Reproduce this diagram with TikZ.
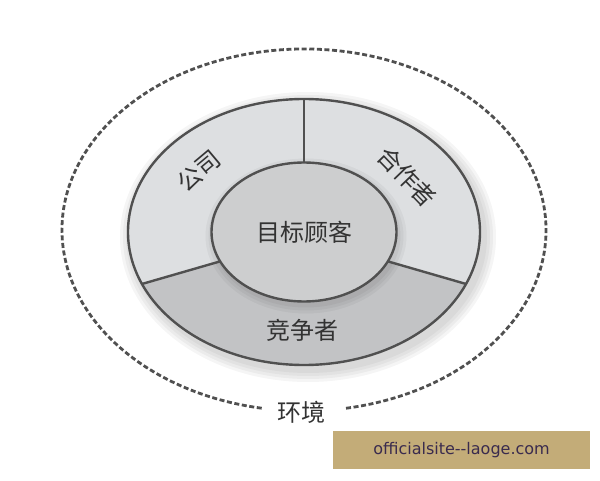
\documentclass[tikz,border=0pt]{standalone}
\usepackage{fontspec}
\newfontfamily\cjk{Noto Sans CJK SC}
\newfontfamily\wmfont{DejaVu Sans}
\definecolor{ringline}{HTML}{505050}
\definecolor{lightsec}{HTML}{DDDFE1}
\definecolor{darksec}{HTML}{C2C3C5}
\definecolor{coresec}{HTML}{CDCECF}
\definecolor{wmbox}{HTML}{C3AC78}
\definecolor{wmtext}{HTML}{3A2B4E}
\begin{document}
\begin{tikzpicture}[x=1pt,y=1pt,
	ring/.style={draw=ringline, line width=2.4pt},
	lbl/.style={font=\cjk\fontsize{24}{26}\selectfont, text=black!80, inner sep=1pt},
	envline/.style={draw=ringline, line width=2.8pt, dash pattern=on 5pt off 2.6pt}]
	\useasboundingbox (0,0) rectangle (600,480);
	\pgfmathsetmacro{\Rx}{176}
	\pgfmathsetmacro{\Ry}{133}
	\pgfmathsetmacro{\rx}{92.5}
	\pgfmathsetmacro{\ry}{69.5}
	\coordinate (C) at (304,248);
	\coordinate (E) at (304,250);
	% soft shadow
	\foreach \s in {12,9,6,3}
		\fill[black, opacity=0.04] ([shift={(4,-5)}]C) ellipse [x radius=\Rx pt+\s pt, y radius=\Ry pt+\s pt];
	\fill[lightsec] (C) ellipse [x radius=\Rx pt, y radius=\Ry pt];
	\fill[darksec] ([shift={(203:\Rx pt and \Ry pt)}]C) arc[start angle=203, end angle=337, x radius=\Rx pt, y radius=\Ry pt]
		-- ([shift={(335:\rx pt and \ry pt)}]C) arc[start angle=335, end angle=205, x radius=\rx pt, y radius=\ry pt] -- cycle;
	\foreach \s in {8,5,2}
		\fill[black, opacity=0.04] ([shift={(2,-4)}]C) ellipse [x radius=\rx pt+\s pt, y radius=\ry pt+\s pt];
	\fill[coresec] (C) ellipse [x radius=\rx pt, y radius=\ry pt];
	% dividers
	\draw[ring] ([shift={(90:\Rx pt and \Ry pt)}]C) -- ([shift={(90:\rx pt and \ry pt)}]C);
	\draw[ring] ([shift={(203:\Rx pt and \Ry pt)}]C) -- ([shift={(205:\rx pt and \ry pt)}]C);
	\draw[ring] ([shift={(337:\Rx pt and \Ry pt)}]C) -- ([shift={(335:\rx pt and \ry pt)}]C);
	\draw[ring] (C) ellipse [x radius=\Rx pt, y radius=\Ry pt];
	\draw[ring] (C) ellipse [x radius=\rx pt, y radius=\ry pt];
	% environment
	\draw[envline] ([shift={(280:242pt and 181pt)}]E) arc[start angle=280, end angle=620, x radius=242pt, y radius=181pt];

	\node[lbl] (target) at (C) {目标顾客};
	\node[lbl] (rival) at (302,150) {竞争者};
	\node[lbl, rotate=40] (company) at (199,309) {公司};
	\node[lbl, rotate=-46] (partner) at (407,303) {合作者};
	\node[lbl] (env) at (301,68) {环境};

	\node[fill=wmbox, minimum width=257pt, minimum height=38pt, inner sep=0pt, text=wmtext,
		font=\wmfont\fontsize{16}{18}\selectfont] (mark) at (461.5,30) {officialsite-\kern0pt-laoge.com};
\end{tikzpicture}
\end{document}
